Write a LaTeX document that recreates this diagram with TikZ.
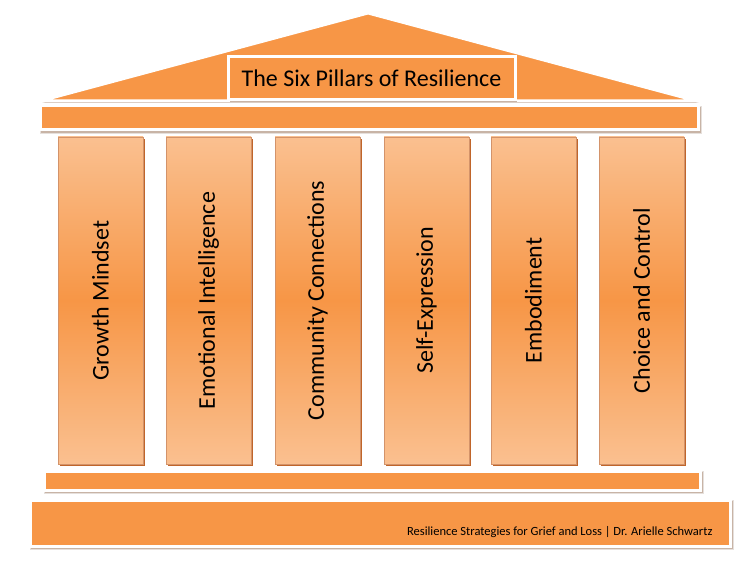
\documentclass[tikz,border=0pt]{standalone}
\usepackage{fontspec}
\setmainfont{Carlito}
\definecolor{org}{HTML}{F79646}
\definecolor{orglight}{HTML}{FAC090}
\definecolor{orgdark}{HTML}{C0652A}
\definecolor{shd}{HTML}{C8B4A6}
\definecolor{edge}{HTML}{E6E0DC}
\begin{document}
\begin{tikzpicture}[x=1pt,y=-1pt,
  panel/.style={fill=org, draw=white, line width=3pt},
  pillar/.style={draw=orgdark!70, line width=0.4pt, top color=orglight, bottom color=orglight, middle color=org, minimum width=85pt, minimum height=327pt, inner sep=0pt},
  pshadow/.style={fill=orgdark, draw=none, minimum width=85pt, minimum height=327pt, inner sep=0pt},
  ptext/.style={rotate=90, font=\fontsize{24}{28}\selectfont, text=black},
  bar/.style={fill=org, draw=white, line width=3pt, inner sep=0pt},
  barshadow/.style={fill=shd, draw=edge, line width=0.6pt, inner sep=0pt}]
\useasboundingbox (0,0) rectangle (750,588);
% roof
\fill[shd] (42,103) -- (370,15) -- (699,103) -- cycle;
\draw[panel] (40,101) -- (368,13) -- (697,101) -- cycle;
\fill[shd] (230,59) rectangle (517,102);
\node[bar, minimum width=287pt, minimum height=43pt] (title) at (371.5,78.5) {};
\node[font=\fontsize{24}{28}\selectfont] at (title) {The Six Pillars of Resilience};
% entablature
\node[barshadow, minimum width=661pt, minimum height=27pt] at (370.5,119.5) {};
\node[bar, minimum width=658pt, minimum height=24pt] (top) at (369,118) {};
% pillars
\foreach \i/\x/\t in {1/100.5/Growth Mindset, 2/208.5/Emotional Intelligence, 3/317.5/Community Connections, 4/426.5/Self-Expression, 5/533.5/Embodiment, 6/641.5/Choice and Control}{
  \node[pshadow] at (\x+2,302.5) {};
  \node[pillar] (p\i) at (\x,300.5) {};
  \node[ptext] at (p\i) {\t};
}
% base
\node[barshadow, minimum width=659pt, minimum height=22pt] at (373.5,482.5) {};
\node[bar, minimum width=656pt, minimum height=19pt] (base1) at (372,481) {};
\node[barshadow, minimum width=703pt, minimum height=49pt] at (381.5,524.5) {};
\node[bar, minimum width=700pt, minimum height=46pt] (base2) at (380,523) {};
\node[anchor=east, font=\fontsize{12.5}{15}\selectfont] at (716,532) {Resilience Strategies for Grief and Loss | Dr. Arielle Schwartz};
\end{tikzpicture}
\end{document}
